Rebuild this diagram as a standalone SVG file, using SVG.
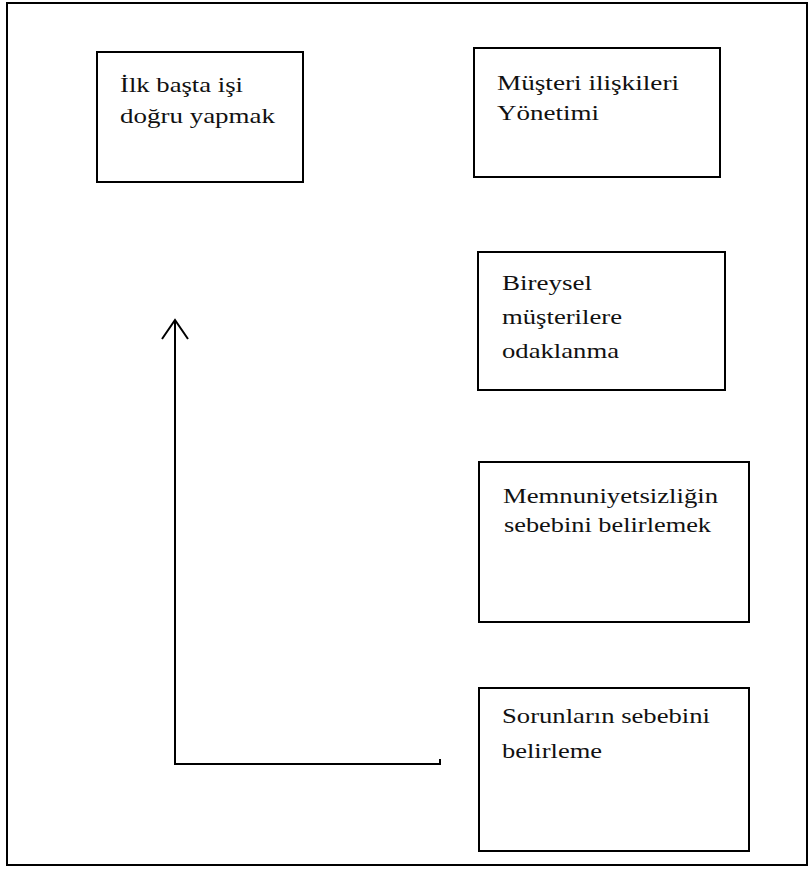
<svg xmlns="http://www.w3.org/2000/svg" width="810" height="870" viewBox="0 0 810 870">
  <style>
    .box { fill: #fff; stroke: #000; stroke-width: 2; }
    .lbl { font-family: "Liberation Serif", "Times New Roman", "DejaVu Serif", serif; font-size: 22px; fill: #111; }
    .conn { fill: none; stroke: #000; stroke-width: 2; }
  </style>
  <rect x="0" y="0" width="810" height="870" fill="#fff"/>
  <!-- page frame -->
  <rect x="7" y="3" width="800" height="862" fill="none" stroke="#000" stroke-width="2"/>

  <g id="node-ilk">
    <rect class="box" x="97" y="52" width="206" height="130"/>
    <text class="lbl" x="120" y="92" textLength="123" lengthAdjust="spacingAndGlyphs">İlk başta işi</text>
    <text class="lbl" x="120" y="123" textLength="155" lengthAdjust="spacingAndGlyphs">doğru yapmak</text>
  </g>
  <g id="node-musteri">
    <rect class="box" x="474" y="48" width="246" height="129"/>
    <text class="lbl" x="497" y="90" textLength="182" lengthAdjust="spacingAndGlyphs">Müşteri ilişkileri</text>
    <text class="lbl" x="497" y="120" textLength="102" lengthAdjust="spacingAndGlyphs">Yönetimi</text>
  </g>
  <g id="node-bireysel">
    <rect class="box" x="478" y="252" width="247" height="138"/>
    <text class="lbl" x="502" y="290" textLength="90" lengthAdjust="spacingAndGlyphs">Bireysel</text>
    <text class="lbl" x="502" y="324" textLength="120" lengthAdjust="spacingAndGlyphs">müşterilere</text>
    <text class="lbl" x="502" y="358" textLength="117" lengthAdjust="spacingAndGlyphs">odaklanma</text>
  </g>
  <g id="node-memnuniyet">
    <rect class="box" x="479" y="462" width="270" height="160"/>
    <text class="lbl" x="503" y="503" textLength="215" lengthAdjust="spacingAndGlyphs">Memnuniyetsizliğin</text>
    <text class="lbl" x="504" y="532" textLength="207" lengthAdjust="spacingAndGlyphs">sebebini belirlemek</text>
  </g>
  <g id="node-sorun">
    <rect class="box" x="479" y="688" width="270" height="163"/>
    <text class="lbl" x="502" y="723" textLength="208" lengthAdjust="spacingAndGlyphs">Sorunların sebebini</text>
    <text class="lbl" x="502" y="758" textLength="100" lengthAdjust="spacingAndGlyphs">belirleme</text>
  </g>

  <g id="connectors">
    <!-- elbow line running left then up, open arrowhead at top -->
    <polyline class="conn" points="440,759 440,764 175,764 175,320"/>
    <polyline class="conn" points="162,339 175,320 188,339"/>
  </g>
</svg>
